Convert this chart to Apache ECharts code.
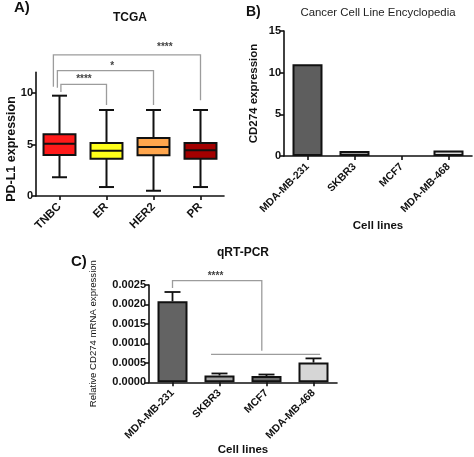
<!DOCTYPE html>
<html><head><meta charset="utf-8">
<script src="https://cdn.jsdelivr.net/npm/echarts@6/dist/echarts.min.js"></script>
<style>html,body{margin:0;padding:0;background:#fff}#c{width:474px;height:457px}</style>
</head><body><div id="c"></div>
<script>
const FONT = "'Liberation Sans', Arial, sans-serif";

// ---------- Panel A: TCGA (box plots) ----------
const categoriesA = ['TNBC', 'ER', 'HER2', 'PR'];
const whiskerLowA  = [1.82, 0.87, 0.51, 0.87];
const q1A          = [3.98, 3.62, 3.95, 3.62];
const medianA      = [5.08, 4.40, 4.76, 4.44];
const q3A          = [6.00, 5.15, 5.63, 5.15];
const whiskerHighA = [9.74, 8.35, 8.35, 8.35];
const ticksA = [0, 5, 10];
// significance brackets: [fromCat, toCat, barY, fromLegBottomY, toLegBottomY, labelCat, labelY, label]
const bracketsA = [
  [0.03, 1, 10.84, 10.1, 8.83, 0.52, 11.35, '****'],
  [-0.045, 2, 12.17, 10.5, 8.83, 1.12, 12.55, '*'],
  [-0.13, 3, 13.7, 10.6, 9.3, 2.24, 14.4, '****']
];

// ---------- Panel B: Cancer Cell Line Encyclopedia ----------
const categoriesB = ['MDA-MB-231', 'SKBR3', 'MCF7', 'MDA-MB-468'];
const valuesB = [11.0, 0.6, 0, 0.65];
const ticksB = [0, 5, 10, 15];

// ---------- Panel C: qRT-PCR ----------
const categoriesC = ['MDA-MB-231', 'SKBR3', 'MCF7', 'MDA-MB-468'];
const valuesC = [0.00208, 0.000175, 0.00016, 0.000507];
const errorTopC = [0.00232, 0.000227, 0.0002, 0.000614];
const ticksC = [0, 0.0005, 0.0010, 0.0015, 0.0020, 0.0025];
// bracket: MDA-MB-231 vs group line
const bracketC = [0, 1.9, 0.00261, 0.00242, 0.00081, 0.915, 0.00273, '****'];
const groupLineC = [0.82, 3.14, 0.00072];

const colorsA = ['#ff1a1a', '#ffff1a', '#ffa64d', '#a30000'];
const colorsB = ['#5e5e5e', '#9b9b9b', '#7a7a7a', '#d9d9d9'];
const colorsC = ['#636363', '#a3a3a3', '#6e6e6e', '#d6d6d6'];
const BR = '#9c9c9c';

const chart = echarts.init(document.getElementById('c'), null, {renderer: 'canvas'});

function axisCommonY(ticks, fmt, min, max, gap, name, nameStyle) {
  return {
    type: 'value', min: min, max: max,
    name: name, nameLocation: 'middle', nameGap: gap, nameRotate: 90,
    nameTextStyle: nameStyle,
    axisLine: {show: true, lineStyle: {color: '#111', width: 1.6}},
    axisTick: {show: true, length: 4, lineStyle: {color: '#111', width: 1.6}, customValues: ticks},
    axisLabel: {customValues: ticks, formatter: fmt, color: '#111', fontFamily: FONT, fontWeight: 'bold', fontSize: 11, margin: 3},
    splitLine: {show: false}
  };
}
function axisCommonX(cats, fs, name, gap) {
  return {
    type: 'category', data: cats, boundaryGap: true,
    name: name, nameLocation: 'middle', nameGap: gap,
    nameTextStyle: {fontFamily: FONT, fontWeight: 'bold', fontSize: 11.5, color: '#111'},
    axisLine: {show: true, lineStyle: {color: '#111', width: 1.6}},
    axisTick: {show: true, alignWithLabel: true, length: 4, lineStyle: {color: '#111', width: 1.6}},
    axisLabel: {rotate: 45, interval: 0, color: '#111', fontFamily: FONT, fontWeight: 'bold', fontSize: fs, margin: 9}
  };
}

function renderBox(params, api) {
  const i = params.dataIndex;
  const band = api.size([1, 0])[0];
  const x = api.coord([i, 0])[0];
  const y = v => api.coord([i, v])[1];
  const bw = band * 0.68, cw = band * 0.32;
  const yl = y(whiskerLowA[i]), y1 = y(q1A[i]), ym = y(medianA[i]), y3 = y(q3A[i]), yh = y(whiskerHighA[i]);
  const ls = {stroke: '#111', lineWidth: 2};
  return {type: 'group', children: [
    {type: 'line', shape: {x1: x, y1: yl, x2: x, y2: y1}, style: ls},
    {type: 'line', shape: {x1: x, y1: y3, x2: x, y2: yh}, style: ls},
    {type: 'line', shape: {x1: x - cw / 2, y1: yl, x2: x + cw / 2, y2: yl}, style: ls},
    {type: 'line', shape: {x1: x - cw / 2, y1: yh, x2: x + cw / 2, y2: yh}, style: ls},
    {type: 'rect', shape: {x: x - bw / 2, y: y3, width: bw, height: y1 - y3}, style: {fill: colorsA[i], stroke: '#111', lineWidth: 2}},
    {type: 'line', shape: {x1: x - bw / 2, y1: ym, x2: x + bw / 2, y2: ym}, style: ls}
  ]};
}

function makeBracketRenderer(list) {
  return function (params, api) {
    const b = list[params.dataIndex];
    const x0 = api.coord([0, 0])[0];
    const band = api.size([1, 0])[0];
    const X = c => x0 + c * band;
    const Y = v => api.coord([0, v])[1];
    const st = {stroke: BR, lineWidth: 1.3};
    return {type: 'group', children: [
      {type: 'polyline', shape: {points: [[X(b[0]), Y(b[3])], [X(b[0]), Y(b[2])], [X(b[1]), Y(b[2])], [X(b[1]), Y(b[4])]]}, style: Object.assign({fill: null}, st)},
      {type: 'text', style: {x: X(b[5]), y: Y(b[6]), text: b[7], fill: '#444', font: 'bold 10px ' + FONT, textAlign: 'center', textVerticalAlign: 'middle'}}
    ]};
  };
}

function renderGroupLine(params, api) {
  const x0 = api.coord([0, 0])[0];
  const band = api.size([1, 0])[0];
  const y = api.coord([0, groupLineC[2]])[1];
  return {type: 'line', shape: {x1: x0 + groupLineC[0] * band, y1: y, x2: x0 + groupLineC[1] * band, y2: y}, style: {stroke: BR, lineWidth: 1.3}};
}

function renderErr(params, api) {
  const i = params.dataIndex;
  const band = api.size([1, 0])[0];
  const x = api.coord([i, 0])[0];
  const ym = api.coord([i, valuesC[i]])[1];
  const yt = api.coord([i, errorTopC[i]])[1];
  const cw = band * 0.34;
  const ls = {stroke: '#111', lineWidth: 1.8};
  return {type: 'group', children: [
    {type: 'line', shape: {x1: x, y1: ym, x2: x, y2: yt}, style: ls},
    {type: 'line', shape: {x1: x - cw / 2, y1: yt, x2: x + cw / 2, y2: yt}, style: ls}
  ]};
}

const option = {
  animation: false,
  backgroundColor: '#fff',
  grid: [
    {left: 36, width: 188, top: 72.4, height: 123.6},
    {left: 284, width: 188, top: 31, height: 125},
    {left: 149, width: 188, top: 285, height: 110}
  ],
  xAxis: [
    Object.assign(axisCommonX(categoriesA, 11.5, '', 0), {gridIndex: 0}),
    Object.assign(axisCommonX(categoriesB, 10.5, 'Cell lines', 64), {gridIndex: 1}),
    Object.assign(axisCommonX(categoriesC, 10.5, 'Cell lines', 57), {gridIndex: 2})
  ],
  yAxis: [
    Object.assign(axisCommonY(ticksA, v => String(v), 0, 12, 22, '',
      {}), {gridIndex: 0}),
    Object.assign(axisCommonY(ticksB, v => String(v), 0, 15, 24, 'CD274 expression',
      {fontFamily: FONT, fontWeight: 'bold', fontSize: 11.5, color: '#111'}), {gridIndex: 1}),
    Object.assign(axisCommonY(ticksC, v => v.toFixed(4), 0, 0.0025, 51, 'Relative CD274 mRNA expression',
      {fontFamily: FONT, fontWeight: 'normal', fontSize: 9.6, color: '#111'}), {gridIndex: 2})
  ],
  graphic: [
    {type: 'text', left: 14, top: 0, style: {text: 'A)', font: 'bold 15px ' + FONT, fill: '#111'}},
    {type: 'text', left: 246, top: 5, style: {text: 'B)', font: 'bold 14px ' + FONT, fill: '#111'}},
    {type: 'text', left: 71, top: 254, style: {text: 'C)', font: 'bold 15px ' + FONT, fill: '#111'}},
    {type: 'text', x: 130, y: 18, style: {text: 'TCGA', font: 'bold 12px ' + FONT, fill: '#111', textAlign: 'center', textVerticalAlign: 'middle'}},
    {type: 'text', x: 12, y: 149, rotation: Math.PI / 2, style: {text: 'PD-L1 expression', font: 'bold 12.5px ' + FONT, fill: '#111', textAlign: 'center', textVerticalAlign: 'middle'}},
    {type: 'text', x: 378, y: 13, style: {text: 'Cancer Cell Line Encyclopedia', font: '11.4px ' + FONT, fill: '#222', textAlign: 'center', textVerticalAlign: 'middle'}},
    {type: 'text', x: 243, y: 253, style: {text: 'qRT-PCR', font: 'bold 12px ' + FONT, fill: '#111', textAlign: 'center', textVerticalAlign: 'middle'}}
  ],
  series: [
    {type: 'custom', xAxisIndex: 0, yAxisIndex: 0, renderItem: renderBox,
     data: categoriesA.map((c, i) => [i, whiskerLowA[i], q1A[i], medianA[i], q3A[i], whiskerHighA[i]]),
     encode: {x: 0, y: [1, 2, 3, 4, 5]}, silent: true, z: 3},
    {type: 'custom', xAxisIndex: 0, yAxisIndex: 0, renderItem: makeBracketRenderer(bracketsA),
     data: bracketsA.map(b => [0, b[2]]), encode: {x: 0, y: 1}, clip: false, silent: true, z: 4},
    {type: 'bar', xAxisIndex: 1, yAxisIndex: 1, barWidth: 30,
     data: valuesB.map((v, i) => ({value: v, itemStyle: {color: colorsB[i], borderColor: '#111', borderWidth: v > 0 ? 2 : 0}})),
     silent: true},
    {type: 'bar', xAxisIndex: 2, yAxisIndex: 2, barWidth: 30,
     data: valuesC.map((v, i) => ({value: v, itemStyle: {color: colorsC[i], borderColor: '#111', borderWidth: 2}})),
     silent: true},
    {type: 'custom', xAxisIndex: 2, yAxisIndex: 2, renderItem: renderErr,
     data: categoriesC.map((c, i) => [i, errorTopC[i]]), encode: {x: 0, y: 1}, silent: true, z: 1},
    {type: 'custom', xAxisIndex: 2, yAxisIndex: 2, renderItem: makeBracketRenderer([bracketC]),
     data: [[0, bracketC[2]]], encode: {x: 0, y: 1}, clip: false, silent: true, z: 4},
    {type: 'custom', xAxisIndex: 2, yAxisIndex: 2, renderItem: renderGroupLine,
     data: [[0, groupLineC[2]]], encode: {x: 0, y: 1}, clip: false, silent: true, z: 4}
  ]
};
chart.setOption(option);
</script></body></html>
